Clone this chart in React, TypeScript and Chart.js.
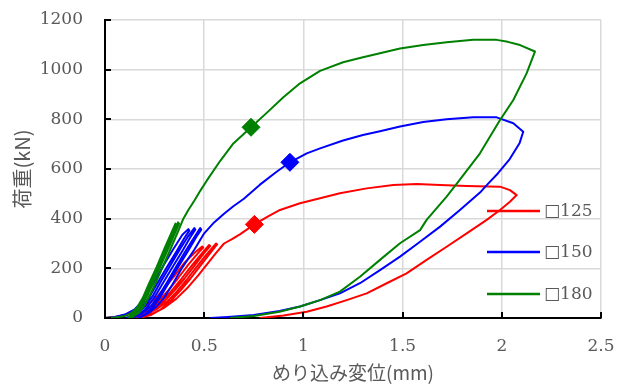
import { useEffect, useRef } from "react";
import { Chart, registerables } from "chart.js";

Chart.register(...registerables);

// ---- tick labels / categories ----
const xTickValues = [0, 0.5, 1, 1.5, 2, 2.5];
const yTickValues = [0, 200, 400, 600, 800, 1000, 1200];
const seriesLabels = ["□125", "□150", "□180"];
const seriesColors = ["#ff0000", "#0000ff", "#008000"];
const xTitle = "めり込み変位(mm)";
const yTitle = "荷重(kN)";

// ---- series 125 (red) ----
const x125 = [
  0, 0.05, 0.1, 0.15, 0.2, 0.25, 0.3, 0.35, 0.4, 0.45, 0.49,
  0.495, 0.47, 0.42, 0.37, 0.32, 0.27, 0.22, 0.17, 0.12,
  0.13, 0.18, 0.23, 0.28, 0.33, 0.38, 0.43, 0.48, 0.525,
  0.53, 0.5, 0.45, 0.4, 0.35, 0.3, 0.25, 0.2, 0.15,
  0.16, 0.21, 0.26, 0.31, 0.36, 0.41, 0.46, 0.51, 0.56,
  0.565, 0.535, 0.48, 0.43, 0.38, 0.33, 0.28, 0.23, 0.18,
  0.19, 0.24, 0.3, 0.36, 0.42, 0.47, 0.52, 0.56, 0.6, 0.64,
  0.68, 0.753, 0.82, 0.882, 0.983, 1.084, 1.184, 1.319, 1.453, 1.571, 1.689, 1.823, 1.991, 2.041, 2.075,
  2.041, 1.991, 1.924, 1.823, 1.722, 1.621, 1.52, 1.42, 1.319, 1.218, 1.117, 1.017, 0.9, 0.78,
];
const y125 = [
  0, 4, 12, 28, 45, 75, 120, 170, 222, 262, 288,
  284, 262, 215, 162, 112, 68, 34, 12, 1,
  4, 16, 36, 64, 104, 152, 204, 252, 294,
  290, 262, 210, 158, 110, 68, 34, 12, 1,
  4, 16, 36, 64, 104, 152, 204, 254, 300,
  296, 266, 210, 158, 110, 68, 34, 12, 1,
  4, 18, 42, 78, 125, 172, 222, 262, 300, 318,
  337, 377, 408, 435, 462, 482, 502, 522, 536, 540, 536, 532, 529, 515, 495,
  468, 435, 395, 341, 287, 234, 180, 140, 99, 72, 46, 25, 10, 0,
];

// ---- series 150 (blue) ----
const x150 = [
  0, 0.05, 0.1, 0.15, 0.19, 0.24, 0.29, 0.34, 0.39, 0.42,
  0.425, 0.4, 0.36, 0.31, 0.26, 0.22, 0.18, 0.14, 0.11,
  0.12, 0.16, 0.2, 0.24, 0.28, 0.33, 0.38, 0.42, 0.45,
  0.455, 0.43, 0.39, 0.34, 0.29, 0.25, 0.21, 0.17, 0.14,
  0.15, 0.19, 0.23, 0.27, 0.31, 0.36, 0.41, 0.45, 0.48,
  0.485, 0.46, 0.42, 0.37, 0.32, 0.28, 0.24, 0.2, 0.17,
  0.18, 0.22, 0.26, 0.3, 0.34, 0.39, 0.45, 0.5, 0.55, 0.6,
  0.647, 0.7, 0.781, 0.865, 0.932, 1.017, 1.084, 1.2, 1.3, 1.386, 1.487, 1.604, 1.722, 1.856, 1.974, 2.058, 2.108,
  2.09, 2.04, 1.98, 1.93, 1.89, 1.789, 1.689, 1.588, 1.487, 1.386, 1.285, 1.184, 1.084, 0.983, 0.88, 0.75, 0.62, 0.53,
];
const y150 = [
  0, 4, 14, 35, 68, 135, 205, 272, 335, 358,
  352, 322, 268, 202, 135, 80, 38, 12, 1,
  3, 18, 45, 88, 145, 212, 280, 330, 362,
  356, 325, 270, 204, 138, 84, 40, 13, 1,
  4, 20, 46, 88, 140, 208, 275, 325, 362,
  356, 326, 272, 206, 140, 86, 42, 14, 1,
  4, 20, 46, 84, 135, 204, 275, 341, 385, 420,
  450, 480, 537, 589, 627, 663, 683, 715, 737, 752, 771, 789, 800, 808, 808, 784, 750,
  705, 640, 582, 540, 505, 435, 368, 307, 247, 193, 140, 99, 72, 46, 28, 12, 4, 0,
];

// ---- series 180 (green) ----
const x180 = [
  0, 0.05, 0.1, 0.13, 0.16, 0.19, 0.22, 0.26, 0.3, 0.33, 0.355,
  0.36, 0.345, 0.315, 0.275, 0.235, 0.205, 0.175, 0.145, 0.12,
  0.125, 0.155, 0.185, 0.215, 0.245, 0.285, 0.325, 0.35, 0.368,
  0.373, 0.358, 0.328, 0.288, 0.248, 0.218, 0.188, 0.158, 0.13,
  0.14, 0.17, 0.2, 0.23, 0.26, 0.3, 0.34, 0.37, 0.395, 0.42, 0.45, 0.48,
  0.512, 0.58, 0.647, 0.736, 0.815, 0.899, 0.983, 1.084, 1.2, 1.3, 1.386, 1.487, 1.604, 1.722, 1.856, 1.974, 2.03, 2.092, 2.167,
  2.125, 2.058, 1.991, 1.89, 1.78, 1.722, 1.621, 1.588, 1.487, 1.386, 1.285, 1.184, 1.084, 0.983, 0.88, 0.75, 0.63,
];
const y180 = [
  0, 2, 8, 18, 40, 80, 135, 205, 280, 335, 380,
  376, 350, 295, 222, 150, 96, 52, 20, 2,
  3, 18, 50, 98, 152, 224, 298, 345, 385,
  380, 352, 297, 224, 152, 98, 54, 22, 2,
  4, 20, 52, 98, 150, 222, 296, 352, 400, 435, 472, 512,
  552, 632, 703, 768, 826, 889, 945, 995, 1030, 1050, 1066, 1085, 1099, 1110, 1120, 1120, 1112, 1099, 1073,
  985, 878, 797, 663, 548, 489, 395, 354, 301, 234, 166, 106, 72, 46, 25, 8, 0,
];

// ---- diamond markers ----
const markerX = [0.753, 0.932, 0.736];
const markerY = [377, 627, 768];

const TEXT_GRAY = "#595959";
const SERIF = '"DejaVu Serif", "Liberation Serif", serif';
const CJK = '"Noto Sans CJK JP", "Noto Sans", sans-serif';

const zip = (xs: number[], ys: number[]) => xs.map((x, i) => ({ x, y: ys[i] }));

const inwardTicks = {
  id: "inwardTicks",
  afterDatasetsDraw(chart: any) {
    const { ctx, chartArea, scales } = chart;
    const { left, bottom } = chartArea;
    ctx.save();
    ctx.strokeStyle = "#000";
    ctx.lineWidth = 2;
    ctx.beginPath();
    scales.x.ticks.forEach((t: any) => {
      const px = Math.round(scales.x.getPixelForValue(t.value));
      ctx.moveTo(px, bottom);
      ctx.lineTo(px, bottom - 6);
    });
    scales.y.ticks.forEach((t: any) => {
      const py = Math.round(scales.y.getPixelForValue(t.value));
      ctx.moveTo(left, py);
      ctx.lineTo(left + 6, py);
    });
    ctx.stroke();
    ctx.restore();
  },
};

const insideLegend = {
  id: "insideLegend",
  afterDatasetsDraw(chart: any) {
    const { ctx, chartArea } = chart;
    const { right, bottom } = chartArea;
    const rows = [107, 66, 24];
    ctx.save();
    seriesLabels.forEach((label, i) => {
      const y = bottom - rows[i];
      ctx.strokeStyle = seriesColors[i];
      ctx.lineWidth = 2.5;
      ctx.beginPath();
      ctx.moveTo(right - 114, y);
      ctx.lineTo(right - 61, y);
      ctx.stroke();
      ctx.fillStyle = TEXT_GRAY;
      ctx.font = `17px ${SERIF}`;
      ctx.textAlign = "left";
      ctx.textBaseline = "middle";
      ctx.fillText(label, right - 57, y + 1);
    });
    ctx.restore();
  },
};

const zeroPadding = (s: any) => {
  s.paddingTop = 0;
  s.paddingBottom = 0;
  s.paddingLeft = 0;
  s.paddingRight = 0;
};

export default function App() {
  const canvasRef = useRef<HTMLCanvasElement | null>(null);

  useEffect(() => {
    if (!canvasRef.current) return;
    const lineDs = (data: any[], color: string, order: number) => ({
      data,
      showLine: true,
      borderColor: color,
      backgroundColor: color,
      borderWidth: 2,
      pointRadius: 0,
      tension: 0,
      borderJoinStyle: "round",
      order,
    });
    const chart = new Chart(canvasRef.current, {
      type: "scatter",
      data: {
        datasets: [
          {
            data: zip(markerX, markerY),
            showLine: false,
            pointStyle: "rectRot",
            pointRadius: 9,
            pointBackgroundColor: seriesColors,
            pointBorderColor: seriesColors,
            pointBorderWidth: 1,
            order: 0,
          } as any,
          lineDs(zip(x180, y180), seriesColors[2], 1),
          lineDs(zip(x150, y150), seriesColors[1], 2),
          lineDs(zip(x125, y125), seriesColors[0], 3),
        ],
      },
      options: {
        animation: false,
        responsive: false,
        layout: { padding: { left: 0, right: 16, top: 20, bottom: 0 } },
        plugins: { legend: { display: false }, tooltip: { enabled: false } },
        scales: {
          x: {
            type: "linear",
            min: 0,
            max: 2.5,
            afterBuildTicks: (s: any) => {
              s.ticks = xTickValues.map((v) => ({ value: v }));
            },
            afterFit: (s: any) => {
              s.height = 69;
              zeroPadding(s);
            },
            ticks: {
              color: TEXT_GRAY,
              font: { family: SERIF, size: 17 },
              padding: 18,
              maxRotation: 0,
              autoSkip: false,
              callback: (v: any) => String(v),
            },
            grid: { color: "#d9d9d9", lineWidth: 1.5, drawTicks: false },
            border: { color: "#000", width: 2 },
            title: {
              display: true,
              text: xTitle,
              color: TEXT_GRAY,
              font: { family: CJK, size: 19 },
              padding: { top: 0, bottom: 3 },
            },
          },
          y: {
            type: "linear",
            min: 0,
            max: 1200,
            afterBuildTicks: (s: any) => {
              s.ticks = yTickValues.map((v) => ({ value: v }));
            },
            afterFit: (s: any) => {
              s.width = 105;
              zeroPadding(s);
            },
            ticks: {
              color: TEXT_GRAY,
              font: { family: SERIF, size: 17 },
              padding: 22,
              autoSkip: false,
              callback: (v: any) => String(v),
            },
            grid: { color: "#d9d9d9", lineWidth: 1.5, drawTicks: false },
            border: { color: "#000", width: 2 },
            title: {
              display: true,
              text: yTitle,
              color: TEXT_GRAY,
              font: { family: CJK, size: 20 },
              padding: { top: 10, bottom: 0 },
            },
          },
        },
      },
      plugins: [inwardTicks, insideLegend],
    } as any);
    return () => chart.destroy();
  }, []);

  return (
    <div style={{ position: "fixed", left: 0, top: 0, width: 617, height: 387, background: "#fff" }}>
      <canvas ref={canvasRef} width={617} height={387} style={{ display: "block" }} />
    </div>
  );
}
